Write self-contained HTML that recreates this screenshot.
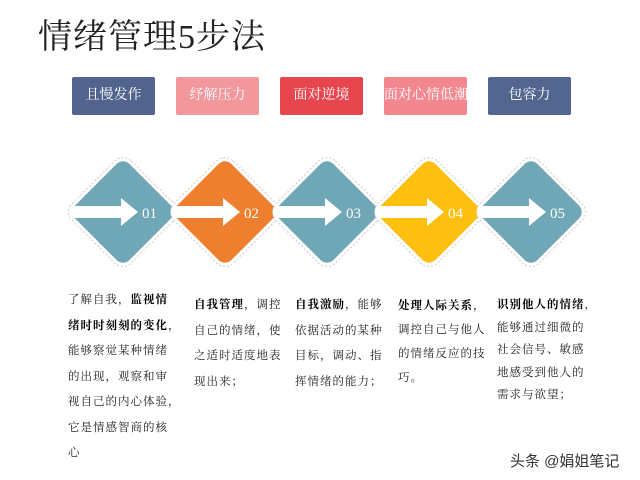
<!DOCTYPE html>
<html><head><meta charset="utf-8"><style>
body{margin:0;width:640px;height:480px;background:#fff;position:relative;overflow:hidden;font-family:"Liberation Serif","Noto Serif CJK SC",serif}
.t{position:absolute;left:38px;top:9px;font-size:34px;color:#222;letter-spacing:1px}
.b{position:absolute;top:77px;width:83px;height:38px;border-radius:2px;color:#fff;font-size:14px;line-height:38px;text-align:center;white-space:nowrap;overflow:hidden}
.c{position:absolute;font-size:11.5px;letter-spacing:1px;color:#222;line-height:25.5px}
.c b{color:#000}
.w{position:absolute;left:510px;top:450px;font-family:"Liberation Sans","Noto Sans CJK SC",sans-serif;font-size:15px;color:#333}
</style></head><body>
<div class="t">情绪管理5步法</div>
<div class="b" style="left:72px;background:#52648e">且慢发作</div>
<div class="b" style="left:176px;background:#f2979c">纾解压力</div>
<div class="b" style="left:280px;background:#e8464f">面对逆境</div>
<div class="b" style="left:384px;background:#f2878f">面对心情低潮</div>
<div class="b" style="left:488px;background:#53668f">包容力</div>
<svg width="640" height="480" style="position:absolute;left:0;top:0">
<defs><g id="d">
<rect x="-42" y="-42" width="84" height="84" rx="12" transform="rotate(45)" fill="#fff" stroke="#ccc" stroke-dasharray="2,2"/>
<rect x="-38.5" y="-38.5" width="77" height="77" rx="9" transform="rotate(45)"/>
</g></defs>
<g fill="#6fa7b6"><use href="#d" x="123" y="212"/></g>
<g fill="#ee7f2e"><use href="#d" x="225" y="212"/></g>
<g fill="#6fa7b6"><use href="#d" x="327" y="212"/></g>
<g fill="#fdc010"><use href="#d" x="429" y="212"/></g>
<g fill="#6fa7b6"><use href="#d" x="531" y="212"/></g>
<g fill="#fff">
<polygon points="72,206 121,206 121,198 138,212 121,226 121,218 72,218"/>
<polygon points="174,206 223,206 223,198 240,212 223,226 223,218 174,218"/>
<polygon points="276,206 325,206 325,198 342,212 325,226 325,218 276,218"/>
<polygon points="378,206 427,206 427,198 444,212 427,226 427,218 378,218"/>
<polygon points="480,206 529,206 529,198 546,212 529,226 529,218 480,218"/>
</g>
<g fill="#fff" font-family="Liberation Serif,serif" font-size="15">
<text x="142" y="218">01</text><text x="244" y="218">02</text><text x="346" y="218">03</text><text x="448" y="218">04</text><text x="550" y="218">05</text>
</g>
</svg>
<div class="c" style="left:68px;top:288px;width:125px">了解自我，<b>监视情<br>绪时时刻刻的变化</b>，<br>能够察觉某种情绪<br>的出现，观察和审<br>视自己的内心体验，<br>它是情感智商的核<br>心</div>
<div class="c" style="left:194px;top:293px;width:100px"><b>自我管理</b>，调控<br>自己的情绪，使<br>之适时适度地表<br>现出来；</div>
<div class="c" style="left:295px;top:293px;width:100px"><b>自我激励</b>，能够<br>依据活动的某种<br>目标，调动、指<br>挥情绪的能力；</div>
<div class="c" style="left:398px;top:294px;width:100px;line-height:24px"><b>处理人际关系</b>，<br>调控自己与他人<br>的情绪反应的技<br>巧。</div>
<div class="c" style="left:497px;top:294px;width:115px;line-height:22.5px"><b>识别他人的情绪</b>，<br>能够通过细微的<br>社会信号、敏感<br>地感受到他人的<br>需求与欲望；</div>
<div class="w">头条 @娟姐笔记</div>
</body></html>
